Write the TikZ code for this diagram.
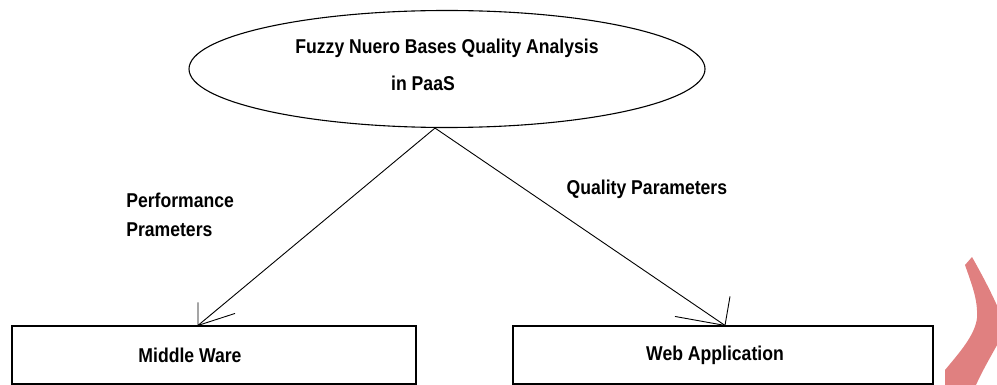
\documentclass[tikz,border=0pt]{standalone}
\usepackage{fontspec}
\setmainfont{Liberation Sans}[FakeStretch=0.88]
\usepackage{tikz}
\usetikzlibrary{positioning, shapes.geometric}
\definecolor{shapered}{RGB}{224,128,128}

\begin{document}
\begin{tikzpicture}[x=1pt, y=-1pt, font=\bfseries\fontsize{20}{24}\selectfont,
        main/.style = {draw, line width=1.1pt, rectangle, minimum height=58pt, inner sep=0pt},
        topic/.style = {draw, line width=1.1pt, ellipse, minimum width=516pt, minimum height=117pt, inner sep=0pt, align=center},
        link/.style = {line width=0.9pt}]
            \useasboundingbox (0,0) rectangle (997,385);

            \node[topic] (F) at (447,69) {Fuzzy Nuero Bases Quality Analysis\\[13pt]\hspace*{-48pt}in PaaS\rule[-9pt]{0pt}{9pt}};
            \node[main, minimum width=404pt] (M) at (214,355) {\hspace*{-48pt}Middle Ware};
            \node[main, minimum width=420pt] (W) at (723,355) {\hspace*{-16pt}Web Application};

            \coordinate (Mtip) at ([xshift=-16pt]M.north);
            \coordinate (Wtip) at ([xshift=2pt]W.north);

            \path[link] ([xshift=-12pt]F.south) edge node[pos=0.44, left=93pt, align=left] {Performance\\[5pt]Prameters} (Mtip);
            \path[link] ([xshift=-12pt]F.south) edge node[pos=0.31, right=38pt] {Quality Parameters} (Wtip);

            % hand drawn arrow heads
            \draw[link] (Mtip) -- +(0,-23) (Mtip) -- +(37,-12);
            \draw[link] (Wtip) -- +(5,-29) (Wtip) -- +(-50,-9);

            % red mark at the right border
            \fill[shapered] (965,265) -- (972,257) .. controls (985,280) and (998,305) .. (1006,328)
                .. controls (995,350) and (985,365) .. (976,385) -- (945,385) -- (945,370)
                .. controls (960,352) and (975,335) .. (977,318) .. controls (978,300) and (972,285) .. (965,265) -- cycle;
        \end{tikzpicture}
\end{document}
